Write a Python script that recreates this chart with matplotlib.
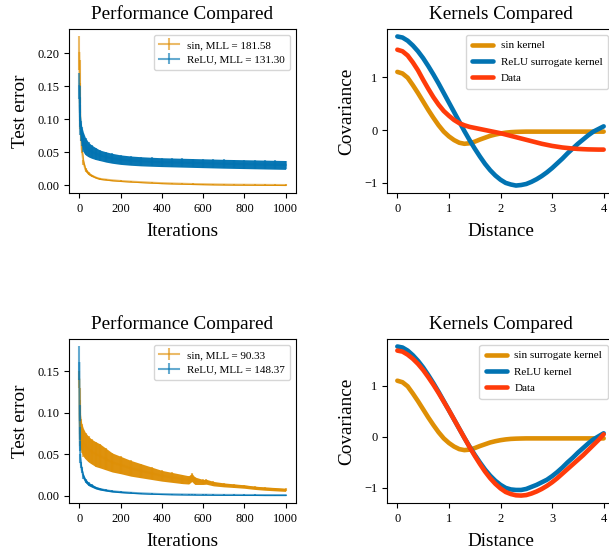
import matplotlib
matplotlib.use("Agg")
import matplotlib.pyplot as plt
import numpy as np

plt.rcParams['font.family'] = ['Liberation Serif', 'DejaVu Serif']

ORANGE = '#de8f05'
BLUE = '#0173b2'
RED = '#ff3b0a'

# ---------------- data: top-left (performance) ----------------
iters_a = [0, 1, 2, 3, 5, 8, 12, 20, 30, 45, 60, 80, 100, 130, 160, 200, 250, 300, 350,
           400, 450, 500, 550, 600, 650, 700, 750, 800, 850, 900, 950, 1000]
sin_a_mean = [0.200, 0.170, 0.140, 0.120, 0.095, 0.075, 0.055, 0.035, 0.024, 0.018, 0.015,
              0.012, 0.010, 0.0088, 0.0078, 0.0068, 0.0058, 0.0050, 0.0042, 0.0035, 0.0030,
              0.0026, 0.0022, 0.0019, 0.0016, 0.0014, 0.0012, 0.0011, 0.0010, 0.0009,
              0.0008, 0.0007]
sin_a_std = [0.025, 0.020, 0.015, 0.012, 0.010, 0.008, 0.006, 0.004, 0.003, 0.002, 0.0015,
             0.0012, 0.0010, 0.0009, 0.0009, 0.0008, 0.0008, 0.0008, 0.0008, 0.0008, 0.0008,
             0.0008, 0.0008, 0.0008, 0.0008, 0.0008, 0.0008, 0.0008, 0.0008, 0.0008,
             0.0008, 0.0008]
relu_a_mean = [0.150, 0.130, 0.115, 0.105, 0.092, 0.082, 0.074, 0.065, 0.059, 0.054, 0.051,
               0.048, 0.0455, 0.043, 0.041, 0.039, 0.0375, 0.0365, 0.0358, 0.0352, 0.0348,
               0.0344, 0.0340, 0.0336, 0.0332, 0.0328, 0.0325, 0.0322, 0.0319, 0.0316,
               0.0313, 0.0310]
relu_a_std = [0.020, 0.020, 0.018, 0.017, 0.016, 0.015, 0.015, 0.015, 0.013, 0.011, 0.010,
              0.0090, 0.0080, 0.0078, 0.0075, 0.0072, 0.0070, 0.0069, 0.0068, 0.0067, 0.0067,
              0.0067, 0.0067, 0.0067, 0.0067, 0.0067, 0.0067, 0.0067, 0.0067, 0.0067,
              0.0067, 0.0067]
mll_a = {'sin': 181.58, 'ReLU': 131.30}

# ---------------- data: bottom-left (performance) ----------------
iters_b = [0, 1, 2, 3, 5, 8, 12, 20, 30, 45, 60, 80, 100, 130, 160, 200, 250, 300, 350,
           400, 450, 500, 530, 545, 560, 600, 615, 650, 700, 750, 800, 850, 900, 950, 1000]
sin_b_mean = [0.140, 0.110, 0.095, 0.088, 0.080, 0.074, 0.069, 0.064, 0.060, 0.056, 0.053,
              0.050, 0.048, 0.044, 0.040, 0.037, 0.033, 0.030, 0.027, 0.024, 0.022, 0.020,
              0.019, 0.022, 0.018, 0.0165, 0.0168, 0.0145, 0.013, 0.012, 0.011, 0.0095,
              0.0085, 0.0078, 0.0070]
sin_b_std = [0.010, 0.020, 0.020, 0.020, 0.020, 0.019, 0.018, 0.017, 0.016, 0.0155, 0.015,
             0.015, 0.0145, 0.013, 0.0115, 0.0105, 0.0095, 0.0085, 0.0075, 0.0065, 0.0060,
             0.0055, 0.0050, 0.0050, 0.0045, 0.0030, 0.0030, 0.0027, 0.0024, 0.0022, 0.0021,
             0.0020, 0.0020, 0.0020, 0.0019]
relu_b_mean = [0.160, 0.100, 0.075, 0.060, 0.045, 0.037, 0.031, 0.023, 0.018, 0.014, 0.012,
               0.0095, 0.0080, 0.0065, 0.0053, 0.0044, 0.0035, 0.0028, 0.0023, 0.0019,
               0.0016, 0.0014, 0.0013, 0.0013, 0.0012, 0.0011, 0.0011, 0.0010, 0.0009,
               0.0009, 0.0008, 0.0008, 0.0007, 0.0007, 0.0007]
relu_b_std = [0.020, 0.010, 0.008, 0.006, 0.005, 0.004, 0.0035, 0.003, 0.0025, 0.002, 0.0018,
              0.0015, 0.0013, 0.0011, 0.0010, 0.0009, 0.0008, 0.0007, 0.0007, 0.0006,
              0.0006, 0.0006, 0.0006, 0.0006, 0.0006, 0.0006, 0.0006, 0.0006, 0.0006,
              0.0006, 0.0006, 0.0006, 0.0006, 0.0006, 0.0006]
mll_b = {'sin': 90.33, 'ReLU': 148.37}

# ---------------- data: kernels (distance 0..4 step 0.1) ----------------
dist = [0.0, 0.1, 0.2, 0.3, 0.4, 0.5, 0.6, 0.7, 0.8, 0.9, 1.0, 1.1, 1.2, 1.3, 1.4, 1.5,
        1.6, 1.7, 1.8, 1.9, 2.0, 2.1, 2.2, 2.3, 2.4, 2.5, 2.6, 2.7, 2.8, 2.9, 3.0, 3.1,
        3.2, 3.3, 3.4, 3.5, 3.6, 3.7, 3.8, 3.9, 4.0]
sin_k_top = [1.10, 1.07, 0.99, 0.85, 0.70, 0.54, 0.38, 0.23, 0.09, -0.03, -0.12, -0.19,
             -0.24, -0.26, -0.25, -0.22, -0.18, -0.145, -0.11, -0.085, -0.065, -0.05,
             -0.04, -0.035, -0.032, -0.03, -0.03, -0.03, -0.03, -0.03, -0.03, -0.03,
             -0.03, -0.03, -0.03, -0.03, -0.03, -0.03, -0.03, -0.03, -0.03]
relu_k_top = [1.77, 1.75, 1.69, 1.60, 1.49, 1.36, 1.21, 1.05, 0.88, 0.70, 0.52, 0.34,
              0.16, -0.02, -0.19, -0.35, -0.50, -0.64, -0.76, -0.86, -0.94, -1.00, -1.03,
              -1.05, -1.04, -1.02, -0.98, -0.93, -0.87, -0.80, -0.72, -0.63, -0.54, -0.44,
              -0.35, -0.26, -0.18, -0.10, -0.03, 0.02, 0.07]
data_k_top = [1.52, 1.49, 1.41, 1.28, 1.13, 0.95, 0.78, 0.62, 0.48, 0.36, 0.27, 0.19,
              0.13, 0.09, 0.06, 0.04, 0.02, 0.00, -0.02, -0.04, -0.06, -0.085, -0.11,
              -0.135, -0.16, -0.185, -0.21, -0.235, -0.26, -0.28, -0.30, -0.315, -0.33,
              -0.34, -0.35, -0.357, -0.362, -0.366, -0.368, -0.37, -0.37]

sin_k_bot = [1.10, 1.07, 0.99, 0.85, 0.70, 0.54, 0.38, 0.23, 0.09, -0.03, -0.12, -0.19,
             -0.24, -0.26, -0.25, -0.22, -0.18, -0.145, -0.11, -0.085, -0.065, -0.05,
             -0.04, -0.035, -0.032, -0.03, -0.03, -0.03, -0.03, -0.03, -0.03, -0.03,
             -0.03, -0.03, -0.03, -0.03, -0.03, -0.03, -0.03, -0.03, -0.03]
relu_k_bot = [1.77, 1.75, 1.69, 1.60, 1.49, 1.36, 1.21, 1.05, 0.88, 0.70, 0.52, 0.34,
              0.16, -0.02, -0.19, -0.35, -0.50, -0.64, -0.76, -0.86, -0.94, -1.00, -1.03,
              -1.04, -1.04, -1.02, -0.98, -0.94, -0.89, -0.84, -0.77, -0.69, -0.60, -0.50,
              -0.41, -0.31, -0.22, -0.13, -0.05, 0.01, 0.07]
data_k_bot = [1.69, 1.67, 1.61, 1.53, 1.43, 1.31, 1.17, 1.02, 0.86, 0.69, 0.52, 0.34,
              0.16, -0.02, -0.20, -0.37, -0.53, -0.68, -0.81, -0.92, -1.01, -1.08, -1.12,
              -1.145, -1.15, -1.14, -1.11, -1.07, -1.02, -0.96, -0.89, -0.81, -0.72, -0.63,
              -0.54, -0.45, -0.36, -0.26, -0.16, -0.06, 0.05]

legend_top = ['sin kernel', 'ReLU surrogate kernel', 'Data']
legend_bot = ['sin surrogate kernel', 'ReLU kernel', 'Data']

TICK = 9
LAB = 13.8
TIT = 13.8
LEG = 8

fig = plt.figure(figsize=(6.09, 5.57), dpi=100)
W = 0.3727
H = 0.2944
ax_tl = fig.add_axes([0.1133, 0.6535, W, H])
ax_tr = fig.add_axes([0.6355, 0.6535, W, H])
ax_bl = fig.add_axes([0.1133, 0.0969, W, H])
ax_br = fig.add_axes([0.6355, 0.0969, W, H])


def perf(ax, it, sm, ss, rm, rs, mll):
    it = np.asarray(it)
    for m, s, c, name, z in [(sm, ss, ORANGE, 'sin', 2), (rm, rs, BLUE, 'ReLU', 3)]:
        m = np.asarray(m); s = np.asarray(s)
        ax.fill_between(it, m - s, m + s, color=c, lw=0, alpha=0.97, zorder=z)
        ax.errorbar(it, m, yerr=s, color=c, alpha=0.6, lw=1.5, elinewidth=1.5,
                    label=f'{name}, MLL = {mll[name]:.2f}', zorder=z)
    ax.set_title('Performance Compared', fontsize=TIT, pad=7)
    ax.set_xlabel('Iterations', fontsize=LAB, labelpad=6)
    ax.set_ylabel('Test error', fontsize=LAB, labelpad=6)
    ax.set_xticks([0, 200, 400, 600, 800, 1000])
    ax.tick_params(labelsize=TICK)
    ax.legend(loc='upper right', fontsize=LEG, handlelength=1.8, borderpad=0.5,
              labelspacing=0.45, handletextpad=0.7)


def kern(ax, sk, rk, dk, labels):
    ax.plot(dist, sk, color=ORANGE, lw=3.3, label=labels[0], solid_capstyle='round')
    ax.plot(dist, rk, color=BLUE, lw=3.3, label=labels[1], solid_capstyle='round')
    ax.plot(dist, dk, color=RED, lw=3.3, label=labels[2], solid_capstyle='round')
    ax.set_title('Kernels Compared', fontsize=TIT, pad=7)
    ax.set_xlabel('Distance', fontsize=LAB, labelpad=6)
    ax.set_ylabel('Covariance', fontsize=LAB, labelpad=6)
    ax.set_xticks([0, 1, 2, 3, 4])
    ax.set_yticks([-1, 0, 1])
    ax.tick_params(labelsize=TICK)
    ax.legend(loc='upper right', fontsize=LEG, handlelength=1.9, borderpad=0.55,
              labelspacing=0.6, handletextpad=0.7)


perf(ax_tl, iters_a, sin_a_mean, sin_a_std, relu_a_mean, relu_a_std, mll_a)
perf(ax_bl, iters_b, sin_b_mean, sin_b_std, relu_b_mean, relu_b_std, mll_b)
ax_tl.set_yticks([0.0, 0.05, 0.10, 0.15, 0.20])
ax_bl.set_yticks([0.0, 0.05, 0.10, 0.15])
for a in (ax_tl, ax_bl):
    a.set_yticklabels([f'{v:.2f}' for v in a.get_yticks()])
kern(ax_tr, sin_k_top, relu_k_top, data_k_top, legend_top)
kern(ax_br, sin_k_bot, relu_k_bot, data_k_bot, legend_bot)

fig.savefig('out.png', dpi=100)
